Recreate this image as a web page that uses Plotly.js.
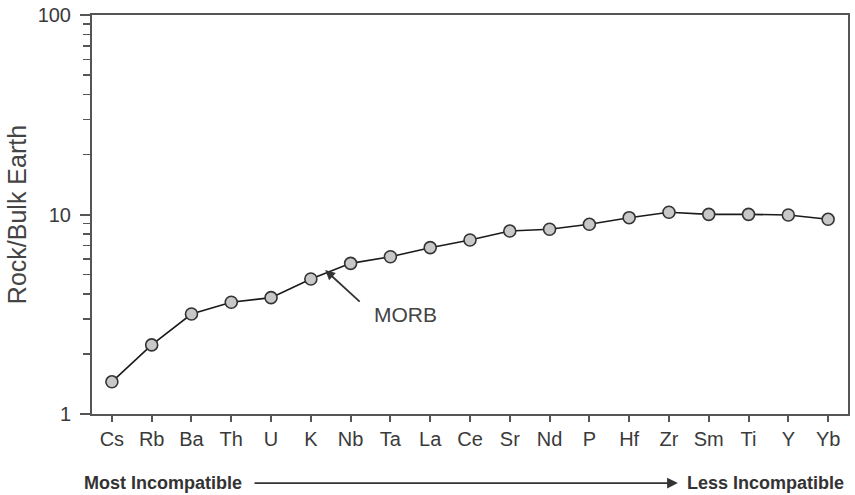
<!DOCTYPE html>
<html>
<head>
<meta charset="utf-8">
<script src="https://cdn.plot.ly/plotly-3.0.1.min.js"></script>
<style>
html,body{margin:0;padding:0;background:#fff;}
#chart{width:855px;height:495px;}
</style>
</head>
<body>
<div id="chart"></div>
<script>
const elements = ["Cs","Rb","Ba","Th","U","K","Nb","Ta","La","Ce","Sr","Nd","P","Hf","Zr","Sm","Ti","Y","Yb"];
const morb = [1.45,2.22,3.17,3.63,3.83,4.75,5.69,6.14,6.82,7.45,8.26,8.43,8.93,9.64,10.26,10.02,10.02,9.94,9.46];
const yMajorTicks = [1,10,100];
const yMajorLabels = ["1","10","100"];
const yMinorTicks = [2,3,4,5,6,7,8,9,20,30,40,50,60,70,80,90];
const seriesName = "MORB";
const yTitle = "Rock/Bulk Earth";
const leftLabel = "Most Incompatible";
const rightLabel = "Less Incompatible";

const axisColor = "#555";
const textColor = "#3a3a3a";
const fontFam = "Liberation Sans, Arial, sans-serif";

const trace = {
  x: elements,
  y: morb,
  type: "scatter",
  mode: "lines+markers",
  name: seriesName,
  line: {color: "#1a1a1a", width: 1.6},
  marker: {size: 12, color: "#c8c8c8", line: {color: "#333", width: 1.6}},
  hoverinfo: "x+y"
};

const layout = {
  width: 855,
  height: 495,
  margin: {l: 92, r: 7, t: 15, b: 81},
  paper_bgcolor: "#fff",
  plot_bgcolor: "#fff",
  showlegend: false,
  font: {family: fontFam, color: textColor, size: 20},
  xaxis: {
    type: "category",
    range: [-0.5, elements.length - 0.5],
    showline: true, linecolor: axisColor, linewidth: 2, mirror: true,
    ticks: "outside", ticklen: 6, tickwidth: 2, tickcolor: axisColor,
    showgrid: false, zeroline: false,
    tickfont: {size: 20, color: textColor, family: fontFam},
    fixedrange: true
  },
  yaxis: {
    type: "log",
    range: [0, 2],
    tickvals: yMajorTicks,
    ticktext: yMajorLabels,
    showline: true, linecolor: axisColor, linewidth: 2, mirror: true,
    ticks: "outside", ticklen: 10, tickwidth: 2, tickcolor: axisColor,
    ticklabelstandoff: 5,
    minor: {tickvals: yMinorTicks, ticks: "outside", ticklen: 7, tickwidth: 1.5, tickcolor: axisColor, showgrid: false},
    showgrid: false, zeroline: false,
    tickfont: {size: 20, color: textColor, family: fontFam},
    title: {text: yTitle, font: {size: 25, color: "#444", family: fontFam}, standoff: 4},
    fixedrange: true
  },
  annotations: [
    {
      xref: "x", yref: "y",
      x: 5.36, y: Math.log10(5.27),
      axref: "pixel", ayref: "pixel", ax: 36, ay: 33,
      text: "", showarrow: true, arrowhead: 2, arrowsize: 1.1, arrowwidth: 1.8, arrowcolor: "#333"
    },
    {
      xref: "x", yref: "y",
      x: 7.39, y: Math.log10(3.17),
      text: seriesName, showarrow: false,
      font: {size: 21, color: "#444", family: fontFam},
      xanchor: "center", yanchor: "middle"
    },
    {
      xref: "paper", yref: "paper",
      x: -0.013, y: -0.173,
      text: "<b>" + leftLabel + "</b>", showarrow: false,
      font: {size: 18, color: "#333", family: fontFam},
      xanchor: "left", yanchor: "middle"
    },
    {
      xref: "paper", yref: "paper",
      x: 0.997, y: -0.173,
      text: "<b>" + rightLabel + "</b>", showarrow: false,
      font: {size: 18, color: "#333", family: fontFam},
      xanchor: "right", yanchor: "middle"
    },
    {
      xref: "paper", yref: "paper",
      x: 0.775, y: -0.173,
      axref: "paper", ayref: "paper", ax: 0.213, ay: -0.173,
      text: "", showarrow: true, arrowhead: 2, arrowsize: 1.2, arrowwidth: 1.8, arrowcolor: "#333"
    }
  ]
};

Plotly.newPlot("chart", [trace], layout, {displayModeBar: false, staticPlot: true});
</script>
</body>
</html>
